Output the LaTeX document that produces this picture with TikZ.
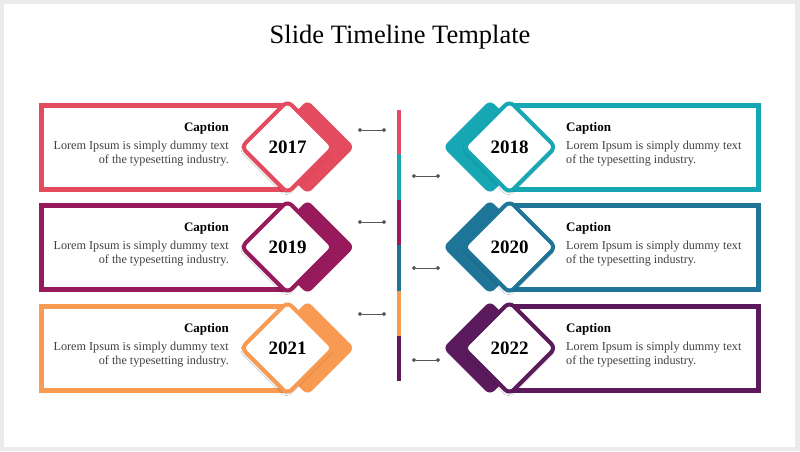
\documentclass[tikz,border=0pt]{standalone}
\usepackage{fontspec}
\setmainfont{Liberation Serif}
\usetikzlibrary{arrows.meta,shadows.blur}
\definecolor{cRed}{HTML}{E44B5F}
\definecolor{cTeal}{HTML}{17A7B4}
\definecolor{cMag}{HTML}{971A5C}
\definecolor{cBlue}{HTML}{1F7598}
\definecolor{cOrange}{HTML}{F89A52}
\definecolor{cPurple}{HTML}{5B1A5C}
\definecolor{cFrame}{HTML}{EBEBEB}
\definecolor{cBody}{HTML}{404040}
\definecolor{cConn}{HTML}{555555}
\tikzset{
  boxline/.style={line width=5pt},
  backdia/.style={rounded corners=6pt},
  frontdia/.style={line width=4pt, fill=white, rounded corners=6pt, line join=round,
    blur shadow={shadow xshift=-1pt, shadow yshift=-2pt, shadow opacity=20, shadow blur steps=6}},
  yearlbl/.style={font=\fontsize{19}{21}\selectfont\bfseries, inner sep=0pt},
  caplbl/.style={font=\fontsize{13}{15}\selectfont\bfseries, inner sep=0pt},
  bodylbl/.style={font=\fontsize{12.2}{14}\selectfont, text=cBody, inner sep=0pt},
  conn/.style={draw=cConn, line width=1pt, {Circle[length=4pt,width=4pt]}-{Circle[length=4pt,width=4pt]}},
  barseg/.style={line width=4pt},
  title/.style={font=\fontsize{26.5}{30}\selectfont, inner sep=0pt}
}
\newcommand{\LRow}[4]{%
  \draw[boxline, draw=#2] (41.5,#1-42) rectangle (288,#1+42);
  \fill[backdia, #2] (307.5,#1-47) -- (354.5,#1) -- (307.5,#1+47) -- (260.5,#1) -- cycle;
  \draw[frontdia, draw=#2] (287.5,#1-46) -- (333.5,#1) -- (287.5,#1+46) -- (241.5,#1) -- cycle;
  \node[yearlbl] (#4y) at (287.5,#1) {#3};
  \node[caplbl, anchor=east] (#4c) at (229,#1-18.5) {Caption};
  \node[bodylbl, anchor=east, align=right] (#4t) at (229,#1+7) {Lorem Ipsum is simply dummy text\\of the typesetting industry.};
}
\newcommand{\RRow}[4]{%
  \draw[boxline, draw=#2] (509,#1-42) rectangle (758.5,#1+42);
  \fill[backdia, #2] (490,#1-47) -- (537,#1) -- (490,#1+47) -- (443,#1) -- cycle;
  \draw[frontdia, draw=#2] (509.5,#1-46) -- (555.5,#1) -- (509.5,#1+46) -- (463.5,#1) -- cycle;
  \node[yearlbl] (#4y) at (509.5,#1) {#3};
  \node[caplbl, anchor=west] (#4c) at (566,#1-18.5) {Caption};
  \node[bodylbl, anchor=west, align=left] (#4t) at (566,#1+7) {Lorem Ipsum is simply dummy text\\of the typesetting industry.};
}
\begin{document}
\begin{tikzpicture}[x=1pt,y=-1pt]
  \useasboundingbox (0,0) rectangle (800,451);
  \fill[cFrame] (0,0) rectangle (800,451);
  \fill[white] (4,3.5) rectangle (794.5,447);
  \node[title] (ttl) at (400,37) {Slide Timeline Template};
  % central bar
  \draw[barseg, cRed]    (399,110) -- (399,154.3);
  \draw[barseg, cTeal]   (399,154) -- (399,200.3);
  \draw[barseg, cMag]    (399,200) -- (399,245.3);
  \draw[barseg, cBlue]   (399,245) -- (399,291.3);
  \draw[barseg, cOrange] (399,291) -- (399,336.3);
  \draw[barseg, cPurple] (399,336) -- (399,381);
  % rows
  \LRow{147}{cRed}{2017}{ra}
  \LRow{247}{cMag}{2019}{rb}
  \LRow{348}{cOrange}{2021}{rc}
  \RRow{147}{cTeal}{2018}{sa}
  \RRow{247}{cBlue}{2020}{sb}
  \RRow{348}{cPurple}{2022}{sc}
  % connectors
  \coordinate (la1) at (358,130); \coordinate (lb1) at (386,130);
  \coordinate (la2) at (358,222); \coordinate (lb2) at (386,222);
  \coordinate (la3) at (358,314); \coordinate (lb3) at (386,314);
  \coordinate (ra1) at (412,176); \coordinate (rb1) at (440,176);
  \coordinate (ra2) at (412,268); \coordinate (rb2) at (440,268);
  \coordinate (ra3) at (412,360); \coordinate (rb3) at (440,360);
  \draw[conn] (la1) -- (lb1);
  \draw[conn] (la2) -- (lb2);
  \draw[conn] (la3) -- (lb3);
  \draw[conn] (ra1) -- (rb1);
  \draw[conn] (ra2) -- (rb2);
  \draw[conn] (ra3) -- (rb3);
\end{tikzpicture}
\end{document}
